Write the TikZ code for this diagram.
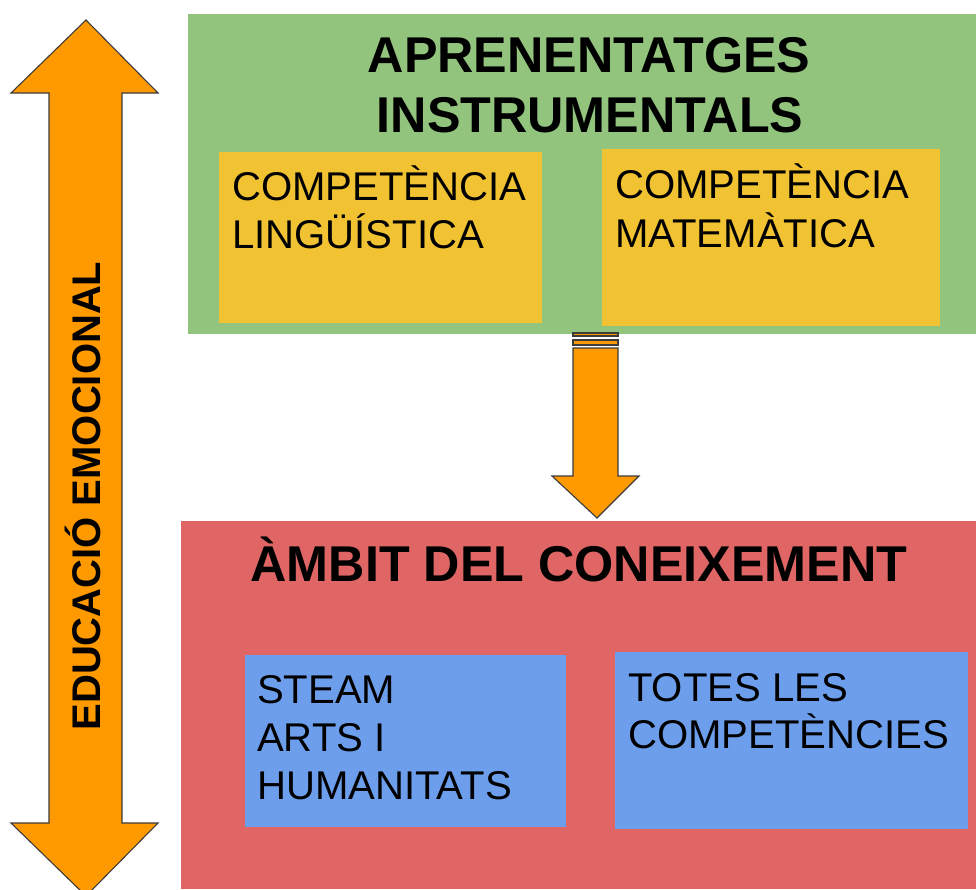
\documentclass[tikz,border=0pt]{standalone}
\usepackage{fontspec}
\setmainfont{Liberation Sans}
\definecolor{gGreen}{HTML}{93C47D}
\definecolor{gYellow}{HTML}{F1C232}
\definecolor{gRed}{HTML}{E06666}
\definecolor{gBlue}{HTML}{6D9EEB}
\definecolor{gOrange}{HTML}{FF9900}
\definecolor{gEdge}{HTML}{3C3C3C}
\begin{document}
\begin{tikzpicture}[x=1pt,y=-1pt,
  panel/.style={draw=none,inner sep=0,outer sep=0,anchor=north west},
  titletext/.style={inner sep=0,anchor=base,font=\fontsize{50.3}{60}\selectfont\bfseries},
  bodytext/.style={inner sep=0,anchor=base west,font=\fontsize{40.1}{48}\selectfont},
  arrowshape/.style={fill=gOrange,draw=gEdge,line width=1.1pt,line join=miter}
]
\useasboundingbox (0,0) rectangle (976,889);
\clip (0,0) rectangle (976,889);

% green panel
\node[panel,fill=gGreen,minimum width=788pt,minimum height=320pt] (green) at (188,14) {};
\node[panel,fill=gYellow,minimum width=323pt,minimum height=171pt] (ling) at (219,152) {};
\node[panel,fill=gYellow,minimum width=338pt,minimum height=177pt] (mate) at (602,149) {};
\node[titletext] (t1a) at (589,72) {APRENENTATGES};
\node[titletext] (t1b) at (590,132) {INSTRUMENTALS};
\node[bodytext] (la) at (232,200) {COMPETÈNCIA};
\node[bodytext] (lb) at (232,248) {LINGÜÍSTICA};
\node[bodytext] (ma) at (615,198) {COMPETÈNCIA};
\node[bodytext] (mb) at (615,247) {MATEMÀTICA};

% red panel
\node[panel,fill=gRed,minimum width=795pt,minimum height=368pt] (red) at (181,521) {};
\node[panel,fill=gBlue,minimum width=321pt,minimum height=172pt] (steam) at (245,655) {};
\node[panel,fill=gBlue,minimum width=353pt,minimum height=177pt] (totes) at (615,652) {};
\node[titletext] (t2) at (579,581) {ÀMBIT DEL CONEIXEMENT};
\node[bodytext] (sa) at (257,703) {STEAM};
\node[bodytext] (sb) at (257,751) {ARTS I};
\node[bodytext] (sc) at (257,799) {HUMANITATS};
\node[bodytext] (ta) at (628,701) {TOTES LES};
\node[bodytext] (tb) at (628,748) {COMPETÈNCIES};

% middle down arrow
\draw[arrowshape] (573,333) rectangle (618,336);
\draw[arrowshape] (573,340) rectangle (618,345);
\draw[arrowshape] (573,348) -- (618,348) -- (618,476) -- (639,476) -- (597,518)
  -- (552,476) -- (573,476) -- cycle;

% left double arrow
\draw[arrowshape] (86,20) -- (158,93) -- (122,93) -- (122,823) -- (158,823)
  -- (86,896) -- (11,823) -- (49,823) -- (49,93) -- (11,93) -- cycle;
\node[inner sep=0,anchor=base,rotate=90,font=\fontsize{40}{48}\selectfont\bfseries] (edu) at (100,496) {EDUCACIÓ EMOCIONAL};
\end{tikzpicture}
\end{document}
